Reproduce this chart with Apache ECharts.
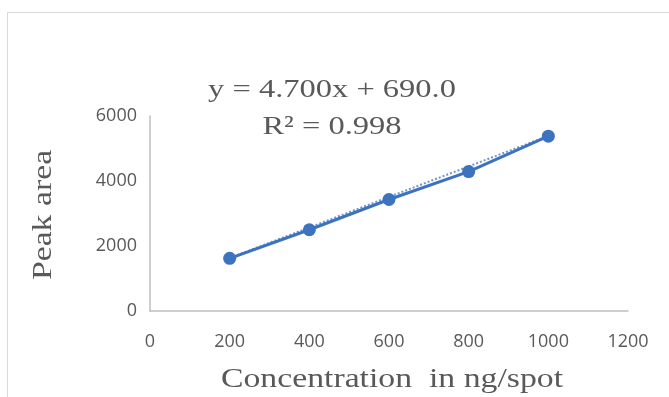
<!DOCTYPE html>
<html>
<head>
<meta charset="utf-8">
<script src="https://cdn.jsdelivr.net/npm/echarts@6/dist/echarts.min.js"></script>
<style>
  html, body { margin: 0; padding: 0; background: #fff; }
  #chart { width: 669px; height: 397px; }
</style>
</head>
<body>
<div id="chart"></div>
<script>
// values
var concentration = [200, 400, 600, 800, 1000];
var peakArea = [1620, 2500, 3430, 4290, 5380];
// linear trendline end points (y = 4.700x + 690.0)
var trendX = [200, 1000];
var trendY = [1630, 5390];
var xTicks = [0, 200, 400, 600, 800, 1000, 1200];
var yTicks = [0, 2000, 4000, 6000];

var chart = echarts.init(document.getElementById('chart'));
var blue = '#3d72bf';
var textGray = '#595959';
var serif = '"Liberation Serif", "Times New Roman", serif';

function label(text, x, y, size, rot) {
  return {
    type: 'text',
    x: x, y: y,
    rotation: rot || 0,
    scaleX: 1.25,
    style: {
      text: text,
      x: 0, y: 0,
      align: 'center',
      verticalAlign: 'middle',
      font: size + 'px ' + serif,
      fill: textGray
    }
  };
}

var option = {
  animation: false,
  graphic: [{
    type: 'rect',
    shape: { x: 7.5, y: 12.5, width: 700, height: 420 },
    style: { fill: 'none', stroke: '#d9d9d9', lineWidth: 1 }
  },
    label('y = 4.700x + 690.0', 332, 90, 26),
    label('R² = 0.998', 332, 127, 26),
    label('Concentration  in ng/spot', 392, 380, 27),
    label('Peak area', 44, 215, 27, Math.PI / 2)
  ],
  grid: { left: 150, right: 41, top: 116, bottom: 86 },
  xAxis: {
    type: 'value',
    min: xTicks[0],
    max: xTicks[xTicks.length - 1],
    interval: 200,
    axisLine: { lineStyle: { color: '#bfbfbf', width: 1.5 } },
    axisTick: { show: false },
    splitLine: { show: false },
    axisLabel: {
      color: textGray, fontSize: 18, fontFamily: 'Open Sans', margin: 22,
      formatter: function (v) { return String(v); }
    }
  },
  yAxis: {
    type: 'value',
    min: yTicks[0],
    max: yTicks[yTicks.length - 1],
    interval: 2000,
    axisLine: { show: true, lineStyle: { color: '#bfbfbf', width: 1.5 } },
    axisTick: { show: false },
    splitLine: { show: false },
    axisLabel: {
      color: textGray, fontSize: 18, fontFamily: 'Open Sans', margin: 13,
      formatter: function (v) { return String(v); }
    }
  },
  series: [{
    type: 'line',
    data: trendX.map(function (x, i) { return [x, trendY[i]]; }),
    symbol: 'none',
    lineStyle: { color: '#6f95d0', width: 2, type: 'dotted' },
    z: 1
  }, {
    type: 'line',
    data: concentration.map(function (x, i) { return [x, peakArea[i]]; }),
    symbol: 'circle',
    symbolSize: 13,
    itemStyle: { color: blue },
    lineStyle: { color: blue, width: 3 },
    z: 2
  }]
};

chart.setOption(option);
window.onresize = chart.resize;
</script>
</body>
</html>
